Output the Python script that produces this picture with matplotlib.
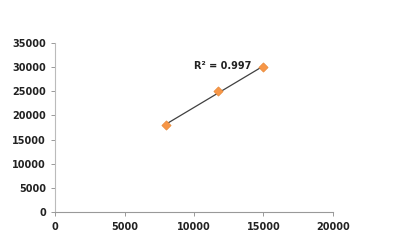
import matplotlib
matplotlib.use("Agg")
import matplotlib.pyplot as plt
import numpy as np

x_vals = [8000, 11700, 15000]
y_vals = [18000, 25000, 30000]
r2_label = "R² = 0.997"

fig = plt.figure(figsize=(4.18, 2.52), dpi=100)
ax = fig.add_axes([0.1316, 0.1587, 0.665, 0.671])

# linear trendline over the data range
coef = np.polyfit(x_vals, y_vals, 1)
xt = np.array([min(x_vals), max(x_vals)])
ax.plot(xt, np.polyval(coef, xt), color="#404040", lw=0.9, zorder=2)
ax.scatter(x_vals, y_vals, marker="D", s=22, color="#F79646",
           edgecolors="#E8893A", linewidths=0.5, zorder=3)

ax.text(14150, 30300, r2_label, fontsize=7, fontweight="bold",
        color="#222222", ha="right", va="center", family="DejaVu Sans")

ax.set_xlim(0, 20000)
ax.set_ylim(0, 35000)
ax.set_xticks(np.arange(0, 20001, 5000))
ax.set_yticks(np.arange(0, 35001, 5000))

for s in ["top", "right"]:
    ax.spines[s].set_visible(False)
ax.spines["left"].set_color("#BBBBBB")
ax.spines["bottom"].set_color("#999999")
ax.tick_params(axis="both", direction="out", length=3, width=0.7,
               colors="#999999", labelcolor="#222222", labelsize=7)
ax.tick_params(axis="x", pad=4)
for lab in ax.get_xticklabels() + ax.get_yticklabels():
    lab.set_fontweight("bold")

fig.savefig("out.png", dpi=100)
